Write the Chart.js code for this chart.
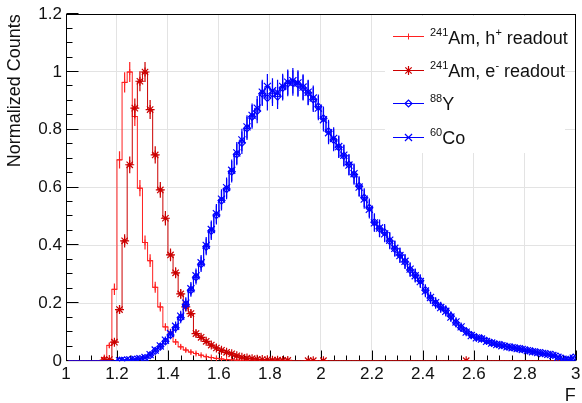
<!DOCTYPE html>
<html>
<head>
<meta charset="utf-8">
<script src="https://cdn.jsdelivr.net/npm/chart.js@4.4.1/dist/chart.umd.min.js"></script>
<style>
	html, body { margin: 0; padding: 0; background: #fff; }
	#wrap { position: relative; width: 582px; height: 403px; }
	#legend { position: absolute; left: 0; top: 0; font-family: "Liberation Sans", Arial, sans-serif; font-size: 18px; color: #111; }
	#legend div { position: absolute; left: 430px; white-space: nowrap; line-height: 20px; }
	#legend sup { font-size: 11px; vertical-align: baseline; position: relative; top: -8px; }
</style>
</head>
<body>
<div id="wrap">
	<canvas id="chart" width="582" height="403"></canvas>
	<div id="legend"></div>
</div>
<script>
// histogram contents, bins of 0.02 in F starting at 1.00 (first bin centre 1.01)
const hPlus = [
	0, 0, 0, 0, 0, 0, 0, 0.012, 0.054, 0.248,
	0.696, 0.964, 1.0, 0.846, 0.598, 0.41, 0.347, 0.255, 0.187, 0.118,
	0.1, 0.066, 0.049, 0.038, 0.031, 0.026, 0.02, 0.015, 0.012, 0.009,
	0.007, 0.005, 0.004, 0.003, 0.002, 0.002, 0.001, 0.001, 0.001, 0.001,
	0.001, 0.001, 0.001, 0.001, 0, 0, 0, 0, 0, 0,
	0, 0, 0, 0, 0, 0, 0, 0, 0, 0,
	0, 0, 0, 0, 0, 0, 0, 0, 0, 0,
	0, 0, 0, 0, 0, 0, 0, 0, 0, 0,
	0, 0, 0, 0, 0, 0, 0, 0, 0, 0,
	0, 0, 0, 0, 0, 0, 0, 0, 0, 0,
];
const eMinus = [
	0, 0, 0, 0, 0, 0, 0, 0.003, 0.005, 0.065,
	0.178, 0.416, 0.679, 0.875, 0.968, 1.0, 0.87, 0.713, 0.592, 0.494,
	0.367, 0.305, 0.232, 0.187, 0.164, 0.095, 0.082, 0.068, 0.055, 0.045,
	0.037, 0.03, 0.025, 0.018, 0.013, 0.01, 0.008, 0.006, 0.005, 0.004,
	0.003, 0.003, 0.002, 0.002, 0, 0, 0, 0.001, 0.001, 0,
	0.001, 0, 0, 0, 0, 0, 0, 0, 0, 0,
	0, 0, 0, 0, 0, 0, 0, 0, 0, 0,
	0, 0, 0, 0, 0, 0, 0, 0, 0.001, 0,
	0, 0, 0, 0, 0, 0, 0, 0, 0, 0,
	0, 0, 0, 0, 0, 0, 0, 0, 0, 0,
];
const y88 = [
	0, 0, 0, 0, 0, 0, 0, 0, 0, 0,
	0.001, 0.002, 0.003, 0.005, 0.007, 0.01, 0.02, 0.035, 0.05, 0.068,
	0.09, 0.115, 0.15, 0.195, 0.245, 0.29, 0.335, 0.395, 0.45, 0.505,
	0.555, 0.595, 0.655, 0.715, 0.755, 0.805, 0.845, 0.865, 0.925, 0.91,
	0.925, 0.915, 0.945, 0.96, 0.962, 0.958, 0.945, 0.928, 0.905, 0.88,
	0.84, 0.795, 0.765, 0.74, 0.71, 0.68, 0.645, 0.605, 0.565, 0.53,
	0.48, 0.458, 0.445, 0.415, 0.388, 0.367, 0.343, 0.315, 0.297, 0.278,
	0.245, 0.218, 0.2, 0.187, 0.175, 0.155, 0.132, 0.115, 0.103, 0.09,
	0.082, 0.078, 0.07, 0.063, 0.058, 0.055, 0.05, 0.047, 0.044, 0.041,
	0.037, 0.033, 0.03, 0.027, 0.024, 0.021, 0.015, 0.008, 0.004, 0.012,
];
const co60 = [
	0, 0, 0, 0, 0, 0, 0, 0, 0, 0,
	0.001, 0.002, 0.004, 0.006, 0.008, 0.012, 0.022, 0.038, 0.052, 0.072,
	0.095, 0.12, 0.155, 0.2, 0.25, 0.295, 0.34, 0.4, 0.455, 0.51,
	0.56, 0.6, 0.66, 0.72, 0.765, 0.81, 0.85, 0.875, 0.93, 0.95,
	0.935, 0.93, 0.95, 0.965, 0.97, 0.962, 0.948, 0.93, 0.91, 0.875,
	0.835, 0.79, 0.77, 0.742, 0.712, 0.678, 0.648, 0.602, 0.56, 0.525,
	0.478, 0.46, 0.44, 0.418, 0.39, 0.365, 0.345, 0.318, 0.295, 0.275,
	0.242, 0.22, 0.202, 0.185, 0.172, 0.152, 0.135, 0.118, 0.1, 0.088,
	0.08, 0.076, 0.068, 0.062, 0.057, 0.053, 0.049, 0.046, 0.043, 0.04,
	0.036, 0.032, 0.029, 0.026, 0.023, 0.019, 0.013, 0.006, 0.005, 0.01,
];

// statistical errors per bin
const hPlusErr = [
	0, 0, 0, 0, 0, 0, 0, 0.004, 0.009, 0.02,
	0.03, 0.035, 0.035, 0.033, 0.028, 0.024, 0.022, 0.019, 0.016, 0.013,
	0.012, 0.01, 0.008, 0.007, 0.006, 0.006, 0.005, 0.004, 0.004, 0.003,
	0.003, 0.003, 0.002, 0.002, 0.002, 0.002, 0.001, 0.001, 0.001, 0.001,
	0.001, 0.001, 0.001, 0.001, 0, 0, 0, 0, 0, 0,
	0, 0, 0, 0, 0, 0, 0, 0, 0, 0,
	0, 0, 0, 0, 0, 0, 0, 0, 0, 0,
	0, 0, 0, 0, 0, 0, 0, 0, 0, 0,
	0, 0, 0, 0, 0, 0, 0, 0, 0, 0,
	0, 0, 0, 0, 0, 0, 0, 0, 0, 0,
];
const eMinusErr = [
	0, 0, 0, 0, 0, 0, 0, 0.002, 0.003, 0.009,
	0.015, 0.023, 0.029, 0.033, 0.035, 0.035, 0.033, 0.03, 0.027, 0.025,
	0.022, 0.019, 0.017, 0.015, 0.014, 0.011, 0.01, 0.009, 0.008, 0.007,
	0.006, 0.006, 0.005, 0.004, 0.004, 0.003, 0.003, 0.003, 0.002, 0.002,
	0.002, 0.002, 0.002, 0.002, 0, 0, 0, 0.001, 0.001, 0,
	0.001, 0, 0, 0, 0, 0, 0, 0, 0, 0,
	0, 0, 0, 0, 0, 0, 0, 0, 0, 0,
	0, 0, 0, 0, 0, 0, 0, 0, 0.001, 0,
	0, 0, 0, 0, 0, 0, 0, 0, 0, 0,
	0, 0, 0, 0, 0, 0, 0, 0, 0, 0,
];
const blueErr = [
	0, 0, 0, 0, 0, 0, 0, 0, 0, 0,
	0.002, 0.003, 0.003, 0.004, 0.005, 0.006, 0.007, 0.009, 0.011, 0.013,
	0.015, 0.017, 0.019, 0.021, 0.023, 0.025, 0.027, 0.029, 0.031, 0.033,
	0.034, 0.035, 0.037, 0.038, 0.039, 0.04, 0.041, 0.042, 0.043, 0.043,
	0.043, 0.043, 0.044, 0.044, 0.044, 0.044, 0.044, 0.043, 0.043, 0.042,
	0.041, 0.04, 0.039, 0.038, 0.037, 0.036, 0.035, 0.034, 0.033, 0.032,
	0.031, 0.03, 0.029, 0.028, 0.027, 0.026, 0.025, 0.024, 0.023, 0.022,
	0.021, 0.02, 0.019, 0.018, 0.018, 0.017, 0.016, 0.015, 0.014, 0.013,
	0.013, 0.012, 0.012, 0.011, 0.011, 0.01, 0.01, 0.01, 0.009, 0.009,
	0.009, 0.008, 0.008, 0.008, 0.007, 0.007, 0.006, 0.005, 0.004, 0.005,
];

const binStart = 1.0;
const binWidth = 0.02;
const binCenters = hPlus.map((_, i) => +(binStart + binWidth * (i + 0.5)).toFixed(3));

const xTicks = [1, 1.2, 1.4, 1.6, 1.8, 2, 2.2, 2.4, 2.6, 2.8, 3];
const yTicks = [0, 0.2, 0.4, 0.6, 0.8, 1, 1.2];

const legendLabels = [
	"<sup>241</sup>Am, h<sup>+</sup> readout",
	"<sup>241</sup>Am, e<sup>-</sup> readout",
	"<sup>88</sup>Y",
	"<sup>60</sup>Co",
];

const FONT = "'Liberation Sans', Arial, sans-serif";

const markerStyles = [
	{ pointStyle: "cross", radius: 3, width: 1 },
	{ pointStyle: "star", radius: 4.5, width: 1.2 },
	{ pointStyle: "rectRot", radius: 3.5, width: 1.2 },
	{ pointStyle: "crossRot", radius: 5, width: 1.2 },
];
const lineColors = ["#ff2020", "#cc0000", "#0000ff", "#0000ff"];

function histo(i, label, values, errors) {
	const m = markerStyles[i];
	return {
		label: label,
		data: binCenters.map((x, k) => ({ x: x, y: values[k] })),
		errors: errors,
		stepped: "middle",
		borderColor: lineColors[i],
		borderWidth: 1,
		pointStyle: m.pointStyle,
		pointRadius: (ctx) => (ctx.raw && ctx.raw.y > 0 ? m.radius : 0),
		pointBorderColor: lineColors[i],
		pointBackgroundColor: "rgba(0,0,0,0)",
		pointBorderWidth: m.width,
		order: 4 - i,
	};
}

const datasets = [
	histo(0, "241Am, h+ readout", hPlus, hPlusErr),
	histo(1, "241Am, e- readout", eMinus, eMinusErr),
	histo(2, "88Y", y88, blueErr),
	histo(3, "60Co", co60, blueErr),
];

// ROOT-like frame, inward ticks, error bars and legend box
const rootStyle = {
	id: "rootStyle",
	beforeDatasetsDraw(chart) {
		const { ctx, chartArea: a, scales } = chart;
		const L = Math.round(a.left) + 0.5, R = Math.round(a.right) - 0.5;
		const T = Math.round(a.top) + 0.5, B = Math.round(a.bottom) - 0.5;
		ctx.save();
		ctx.strokeStyle = "#000";
		ctx.lineWidth = 1;
		ctx.strokeRect(L, T, R - L, B - T);
		ctx.beginPath();
		for (let k = 0; k <= 40; k++) {
			const px = Math.round(scales.x.getPixelForValue(1 + k * 0.05)) + 0.5;
			ctx.moveTo(px, B);
			ctx.lineTo(px, B - (k % 4 === 0 ? 10 : 5));
		}
		for (let k = 0; k <= 24; k++) {
			const py = Math.round(scales.y.getPixelForValue(k * 0.05)) - 0.5;
			ctx.moveTo(L, py);
			ctx.lineTo(L + (k % 4 === 0 ? 12 : 6), py);
		}
		ctx.stroke();
		ctx.restore();
	},
	afterDatasetDraw(chart, args) {
		const ds = chart.data.datasets[args.index];
		if (!ds.errors) return;
		const ctx = chart.ctx, y = chart.scales.y;
		ctx.save();
		ctx.strokeStyle = lineColors[args.index];
		ctx.lineWidth = 1.2;
		ctx.beginPath();
		args.meta.data.forEach((pt, i) => {
			const v = ds.data[i].y, e = ds.errors[i];
			if (!v || !e) return;
			ctx.moveTo(pt.x, y.getPixelForValue(v - e));
			ctx.lineTo(pt.x, y.getPixelForValue(v + e));
		});
		ctx.stroke();
		ctx.restore();
	},
	afterDatasetsDraw(chart) {
		const ctx = chart.ctx;
		ctx.save();
		ctx.fillStyle = "#fff";
		ctx.fillRect(385, 16, 180, 137);
		const rows = [36, 69.5, 103, 136.5];
		markerStyles.forEach((m, i) => {
			const yy = Math.round(rows[i]) + 0.5;
			ctx.strokeStyle = lineColors[i];
			ctx.fillStyle = "rgba(0,0,0,0)";
			ctx.lineWidth = 1;
			ctx.beginPath();
			ctx.moveTo(393, yy);
			ctx.lineTo(424, yy);
			ctx.stroke();
			ctx.lineWidth = m.width;
			Chart.helpers.drawPoint(ctx, {
				pointStyle: m.pointStyle,
				radius: m.radius,
				rotation: 0,
				borderWidth: m.width,
			}, 408.5, yy);
		});
		ctx.restore();
	},
};

document.getElementById("legend").innerHTML = legendLabels
	.map((t, i) => '<div style="top:' + (27.5 + i * 33.4) + 'px">' + t + "</div>")
	.join("");

new Chart(document.getElementById("chart"), {
	type: "line",
	data: { datasets: datasets },
	plugins: [rootStyle],
	options: {
		responsive: false,
		animation: false,
		devicePixelRatio: 1,
		layout: { padding: { top: 14, right: 0, left: 0, bottom: 0 } },
		plugins: { legend: { display: false }, tooltip: { enabled: false } },
		scales: {
			x: {
				type: "linear",
				min: 1,
				max: 3,
				afterBuildTicks: (s) => { s.ticks = xTicks.map((v) => ({ value: v })); },
				afterFit: (s) => { s.height = 42; s.paddingRight = 5; s.paddingLeft = 0; },
				grid: { color: "#e3e3e3", drawTicks: false },
				border: { display: false },
				ticks: {
					color: "#111",
					padding: 3,
					maxRotation: 0,
					font: { family: FONT, size: 17 },
					callback: (v) => String(v),
				},
				title: {
					display: true,
					text: "F",
					align: "end",
					color: "#111",
					font: { family: FONT, size: 18, lineHeight: 1 },
					padding: { top: 0, bottom: -2 },
				},
			},
			y: {
				min: 0,
				max: 1.2,
				afterBuildTicks: (s) => { s.ticks = yTicks.map((v) => ({ value: v })); },
				afterFit: (s) => { s.width = 66; },
				grid: { color: "#e3e3e3", drawTicks: false },
				border: { display: false },
				ticks: {
					color: "#111",
					padding: 4,
					font: { family: FONT, size: 17 },
					callback: (v) => String(v),
				},
				title: {
					display: true,
					text: "Normalized Counts",
					align: "end",
					color: "#111",
					font: { family: FONT, size: 18, lineHeight: 1 },
					padding: { top: 6, bottom: 0 },
				},
			},
		},
	},
});
</script>
</body>
</html>
